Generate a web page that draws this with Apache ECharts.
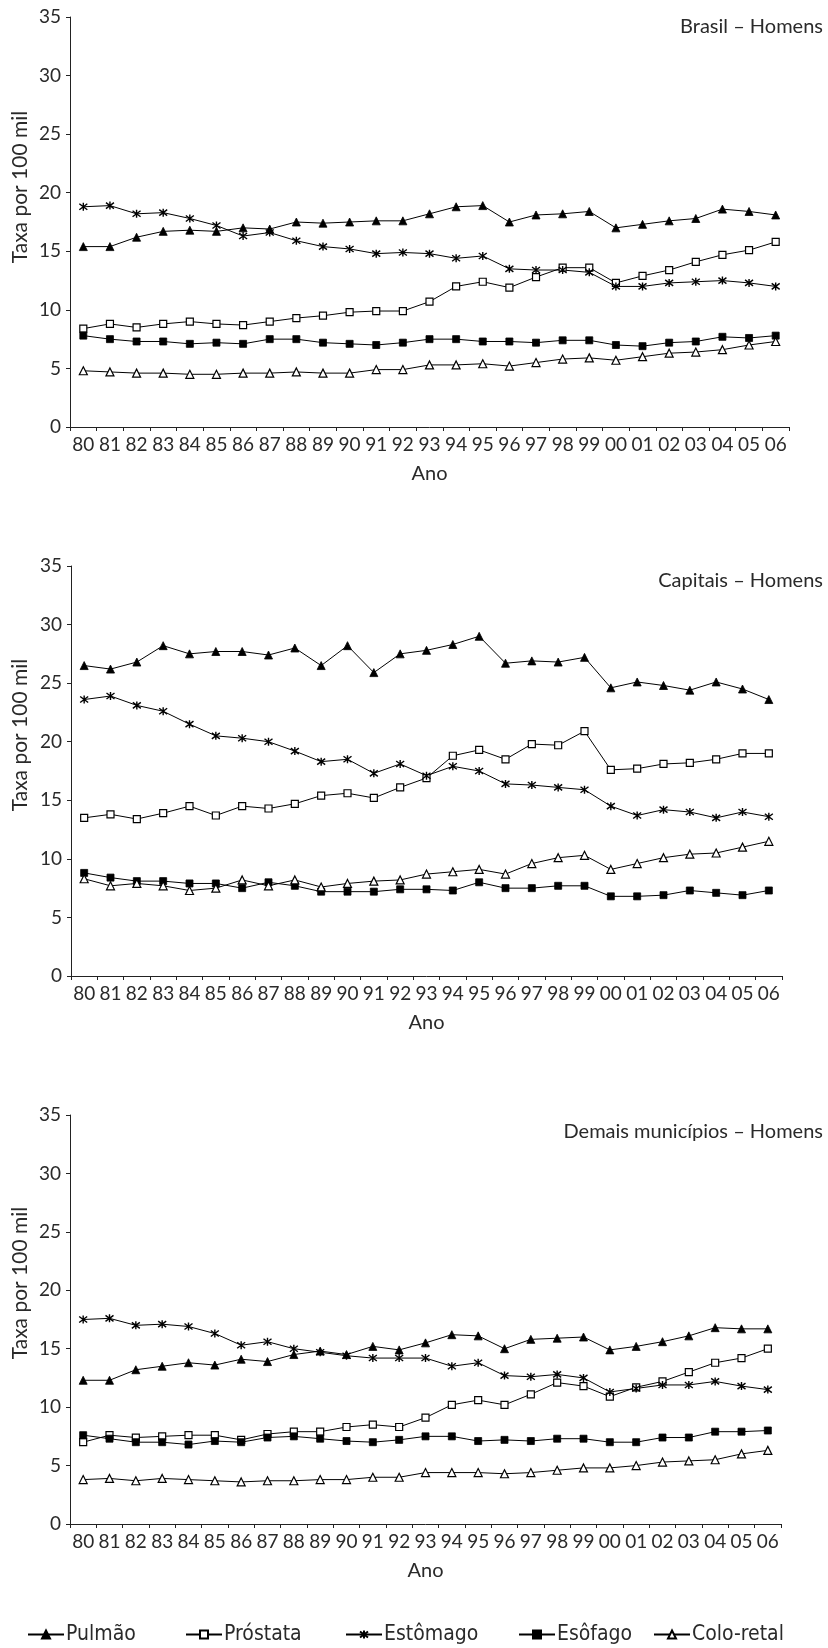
<!DOCTYPE html>
<html>
<head>
<meta charset="utf-8">
<script src="https://cdn.jsdelivr.net/npm/echarts@6/dist/echarts.min.js"></script>
<style>
html,body{margin:0;padding:0;background:#fff;}
#chart{width:828px;height:1648px;}
</style>
</head>
<body>
<div id="chart"></div>
<script>
const years = ['80','81','82','83','84','85','86','87','88','89','90','91','92','93','94','95','96','97','98','99','00','01','02','03','04','05','06'];
const yTicks = [0, 5, 10, 15, 20, 25, 30, 35];
const panelTitles = ['Brasil – Homens', 'Capitais – Homens', 'Demais municípios – Homens'];
const seriesNames = ['Pulmão', 'Próstata', 'Estômago', 'Esôfago', 'Colo-retal'];

// Brasil – Homens
const brasilPulmao   = [15.4,15.4,16.2,16.7,16.8,16.7,17.0,16.9,17.5,17.4,17.5,17.6,17.6,18.2,18.8,18.9,17.5,18.1,18.2,18.4,17.0,17.3,17.6,17.8,18.6,18.4,18.1];
const brasilProstata = [8.4,8.8,8.5,8.8,9.0,8.8,8.7,9.0,9.3,9.5,9.8,9.9,9.9,10.7,12.0,12.4,11.9,12.8,13.6,13.6,12.3,12.9,13.4,14.1,14.7,15.1,15.8];
const brasilEstomago = [18.8,18.9,18.2,18.3,17.8,17.2,16.3,16.6,15.9,15.4,15.2,14.8,14.9,14.8,14.4,14.6,13.5,13.4,13.4,13.2,12.0,12.0,12.3,12.4,12.5,12.3,12.0];
const brasilEsofago  = [7.8,7.5,7.3,7.3,7.1,7.2,7.1,7.5,7.5,7.2,7.1,7.0,7.2,7.5,7.5,7.3,7.3,7.2,7.4,7.4,7.0,6.9,7.2,7.3,7.7,7.6,7.8];
const brasilColo     = [4.8,4.7,4.6,4.6,4.5,4.5,4.6,4.6,4.7,4.6,4.6,4.9,4.9,5.3,5.3,5.4,5.2,5.5,5.8,5.9,5.7,6.0,6.3,6.4,6.6,7.0,7.3];

// Capitais – Homens
const capPulmao   = [26.5,26.2,26.8,28.2,27.5,27.7,27.7,27.4,28.0,26.5,28.2,25.9,27.5,27.8,28.3,29.0,26.7,26.9,26.8,27.2,24.6,25.1,24.8,24.4,25.1,24.5,23.6];
const capProstata = [13.5,13.8,13.4,13.9,14.5,13.7,14.5,14.3,14.7,15.4,15.6,15.2,16.1,16.9,18.8,19.3,18.5,19.8,19.7,20.9,17.6,17.7,18.1,18.2,18.5,19.0,19.0];
const capEstomago = [23.6,23.9,23.1,22.6,21.5,20.5,20.3,20.0,19.2,18.3,18.5,17.3,18.1,17.1,17.9,17.5,16.4,16.3,16.1,15.9,14.5,13.7,14.2,14.0,13.5,14.0,13.6];
const capEsofago  = [8.8,8.4,8.1,8.1,7.9,7.9,7.5,8.0,7.7,7.2,7.2,7.2,7.4,7.4,7.3,8.0,7.5,7.5,7.7,7.7,6.8,6.8,6.9,7.3,7.1,6.9,7.3];
const capColo     = [8.3,7.7,7.9,7.7,7.3,7.5,8.2,7.7,8.2,7.6,7.9,8.1,8.2,8.7,8.9,9.1,8.7,9.6,10.1,10.3,9.1,9.6,10.1,10.4,10.5,11.0,11.5];

// Demais municípios – Homens
const demPulmao   = [12.3,12.3,13.2,13.5,13.8,13.6,14.1,13.9,14.5,14.8,14.5,15.2,14.9,15.5,16.2,16.1,15.0,15.8,15.9,16.0,14.9,15.2,15.6,16.1,16.8,16.7,16.7];
const demProstata = [7.0,7.6,7.4,7.5,7.6,7.6,7.2,7.7,7.9,7.9,8.3,8.5,8.3,9.1,10.2,10.6,10.2,11.1,12.1,11.8,10.9,11.7,12.2,13.0,13.8,14.2,15.0];
const demEstomago = [17.5,17.6,17.0,17.1,16.9,16.3,15.3,15.6,15.0,14.7,14.4,14.2,14.2,14.2,13.5,13.8,12.7,12.6,12.8,12.5,11.3,11.6,11.9,11.9,12.2,11.8,11.5];
const demEsofago  = [7.6,7.3,7.0,7.0,6.8,7.1,7.0,7.4,7.5,7.3,7.1,7.0,7.2,7.5,7.5,7.1,7.2,7.1,7.3,7.3,7.0,7.0,7.4,7.4,7.9,7.9,8.0];
const demColo     = [3.8,3.9,3.7,3.9,3.8,3.7,3.6,3.7,3.7,3.8,3.8,4.0,4.0,4.4,4.4,4.4,4.3,4.4,4.6,4.8,4.8,5.0,5.3,5.4,5.5,6.0,6.3];

const panelData = [
  [brasilPulmao, brasilProstata, brasilEstomago, brasilEsofago, brasilColo],
  [capPulmao, capProstata, capEstomago, capEsofago, capColo],
  [demPulmao, demProstata, demEstomago, demEsofago, demColo]
];

const FONT = 'Lato, "Open Sans", sans-serif';
const TXT = '#2a2a2a';
const ASTERISK = 'path://M0,-1L0,1M-0.85,-0.75L0.85,0.75M-0.85,0.75L0.85,-0.75';

const symbolStyles = [
  {symbol: 'triangle', symbolSize: 8, itemStyle: {color: '#000', borderColor: '#000', borderWidth: 0.8}},
  {symbol: 'rect', symbolSize: 7, itemStyle: {color: '#fff', borderColor: '#000', borderWidth: 1.2}},
  {symbol: ASTERISK, symbolSize: 8, itemStyle: {color: '#000', borderColor: '#000', borderWidth: 1.4}},
  {symbol: 'rect', symbolSize: 7, itemStyle: {color: '#000', borderColor: '#000', borderWidth: 0.8}},
  {symbol: 'triangle', symbolSize: 8, itemStyle: {color: '#fff', borderColor: '#000', borderWidth: 1.2}}
];

const grids = [
  {left: 70, right: 39, top: 17, height: 410},
  {left: 71, right: 46, top: 566, height: 410},
  {left: 70, right: 47, top: 1115, height: 409}
];
const titleCenters = [30, 584, 1135];
const yNameCenters = [187, 735, 1283];

const xAxes = [], yAxes = [], series = [], titles = [], graphics = [];
grids.forEach((g, i) => {
  xAxes.push({
    type: 'category', gridIndex: i, data: years, boundaryGap: true,
    name: 'Ano', nameLocation: 'middle', nameGap: 37,
    nameTextStyle: {fontFamily: FONT, fontSize: 20, color: TXT},
    axisLine: {show: true, lineStyle: {color: '#222', width: 1}},
    axisTick: {show: true, inside: false, length: 4, interval: 0, lineStyle: {color: '#222'}},
    axisLabel: {interval: 0, margin: 8, fontFamily: FONT, fontSize: 19, color: TXT},
    splitLine: {show: false}
  });
  yAxes.push({
    type: 'value', gridIndex: i, min: yTicks[0], max: yTicks[yTicks.length - 1], interval: 5,
    axisLine: {show: true, lineStyle: {color: '#222', width: 1}},
    axisTick: {show: true, inside: false, length: 4, lineStyle: {color: '#222'}},
    axisLabel: {margin: 9, fontFamily: FONT, fontSize: 19, color: TXT},
    splitLine: {show: false}
  });
  titles.push({
    text: panelTitles[i], right: 5, top: titleCenters[i] - 13, padding: 0,
    textStyle: {fontFamily: FONT, fontSize: 20, fontWeight: 'normal', color: TXT}
  });
  graphics.push({
    type: 'text', x: 20, y: yNameCenters[i], rotation: Math.PI / 2,
    style: {text: 'Taxa por 100 mil', fontFamily: FONT, fontSize: 21, fill: TXT, align: 'center', verticalAlign: 'middle'}
  });
  seriesNames.forEach((name, k) => {
    series.push(Object.assign({
      type: 'line', name: name, xAxisIndex: i, yAxisIndex: i,
      data: panelData[i][k],
      showAllSymbol: true,
      lineStyle: {color: '#000', width: 1},
      emphasis: {disabled: true},
      animation: false
    }, JSON.parse(JSON.stringify(symbolStyles[k]))));
  });
});

const legendLefts = [27, 185, 345, 518, 653];
const legends = seriesNames.map((name, k) => ({
  data: [name], left: legendLefts[k], top: 1624, padding: 0,
  itemWidth: 36, itemHeight: 10, itemGap: 0,
  selectedMode: false,
  textStyle: {fontFamily: '"Liberation Sans Narrow", "DejaVu Sans Condensed", sans-serif', fontSize: 21, color: TXT, padding: [0, 0, 0, -3]}
}));

const chart = echarts.init(document.getElementById('chart'), null, {renderer: 'canvas'});
chart.setOption({
  backgroundColor: '#fff',
  animation: false,
  title: titles,
  grid: grids,
  xAxis: xAxes,
  yAxis: yAxes,
  legend: legends,
  graphic: graphics,
  series: series
});
</script>
</body>
</html>
